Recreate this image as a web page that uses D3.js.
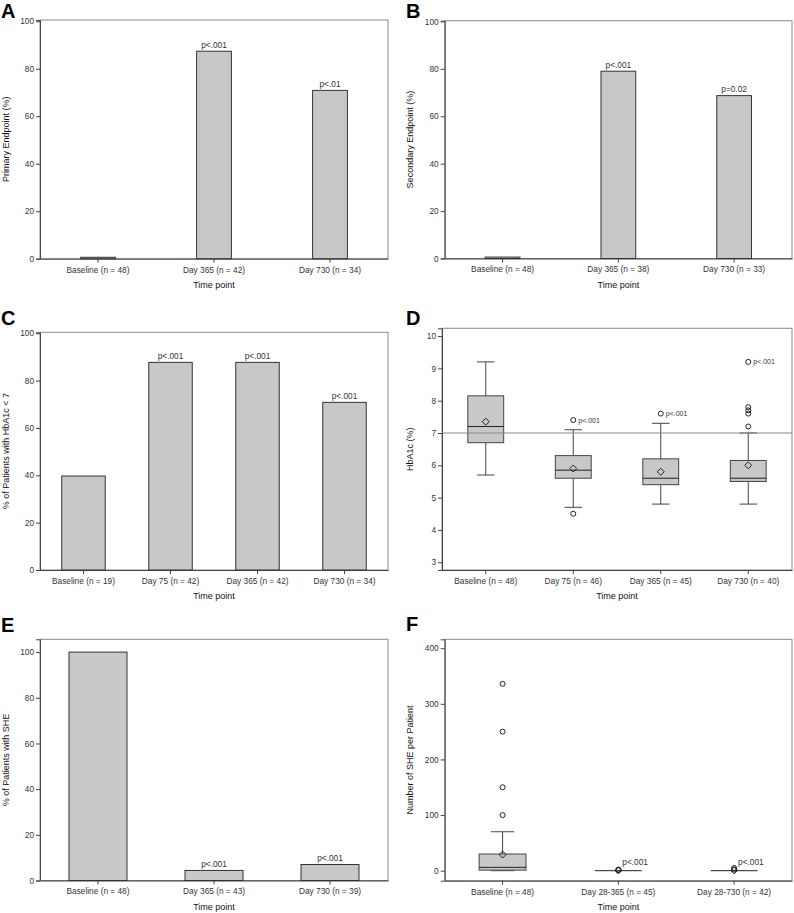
<!DOCTYPE html>
<html><head><meta charset="utf-8">
<script src="https://cdn.jsdelivr.net/npm/d3@7"></script>
<style>html,body{margin:0;padding:0;background:#fff}svg{display:block;font-family:"Liberation Sans",Arial,sans-serif}</style>
</head><body>
<svg id="c" width="794" height="913"></svg>
<script>
// ---------- DATA ----------
const catsA = ["Baseline (n = 48)", "Day 365 (n = 42)", "Day 730 (n = 34)"];
const valsA = [0.6, 87.4, 70.9];
const pA = ["", "p<.001", "p<.01"];

const catsB = ["Baseline (n = 48)", "Day 365 (n = 38)", "Day 730 (n = 33)"];
const valsB = [0.6, 79.0, 68.7];
const pB = ["", "p<.001", "p=0.02"];

const catsC = ["Baseline (n = 19)", "Day 75 (n = 42)", "Day 365 (n = 42)", "Day 730 (n = 34)"];
const valsC = [39.7, 87.7, 87.7, 70.8];
const pC = ["", "p<.001", "p<.001", "p<.001"];

const catsD = ["Baseline (n = 48)", "Day 75 (n = 46)", "Day 365 (n = 45)", "Day 730 (n = 40)"];
const lowD = [5.7, 4.7, 4.8, 4.8];
const q1D = [6.7, 5.6, 5.4, 5.5];
const medD = [7.2, 5.85, 5.6, 5.6];
const q3D = [8.15, 6.3, 6.2, 6.15];
const highD = [9.2, 7.1, 7.3, 7.0];
const meanD = [7.35, 5.9, 5.8, 6.0];
const outD = [[], [7.4, 4.5], [7.6], [9.2, 7.8, 7.7, 7.6, 7.2]];
const pD = ["", "p<.001", "p<.001", "p<.001"];
const pDat = [null, 7.4, 7.6, 9.2];
const refD = 7;

const catsE = ["Baseline (n = 48)", "Day 365 (n = 43)", "Day 730 (n = 39)"];
const valsE = [100, 4.4, 7.0];
const pE = ["", "p<.001", "p<.001"];

const catsF = ["Baseline (n = 48)", "Day 28-365 (n = 45)", "Day 28-730 (n = 42)"];
const lowF = [0, 0, 0];
const q1F = [1, 0, 0];
const medF = [6, 0, 0];
const q3F = [30, 0, 0];
const highF = [70, 0, 0];
const meanF = [29, 0.4, 0.6];
const outF = [[336, 250, 150, 100], [1, 2], [2, 5]];
const pF = ["", "p<.001", "p<.001"];

const ticks100 = [0, 20, 40, 60, 80, 100];
const ticksD = [3, 4, 5, 6, 7, 8, 9, 10];
const ticksF = [0, 100, 200, 300, 400];

// ---------- DRAW ----------
const svg = d3.select("#c");
const TXT = "#333";
const FILL = "#c8c8c8";

function frame(o) {
  const g = svg.append("g");
  const x = d3.scaleBand().domain(o.cats).range([o.left, o.right]).padding(0);
  const y = d3.scaleLinear().domain(o.domain).range([o.bottom, o.top]);
  // frame (top/right lighter)
  g.append("rect").attr("x", o.left).attr("y", o.top).attr("width", o.right - o.left)
    .attr("height", o.bottom - o.top).attr("fill", "none").attr("stroke", "#8a8a8a").attr("stroke-width", 1);
  // y axis
  const ya = g.append("g").attr("transform", `translate(${o.left},0)`)
    .call(d3.axisLeft(y).tickValues(o.ticks).tickSize(4).tickPadding(2).tickFormat(d3.format("d")));
  ya.select(".domain").attr("stroke", "#444");
  ya.selectAll(".tick line").attr("stroke", "#444");
  ya.selectAll("text").attr("fill", TXT).style("font-size", "8.3px").style("font-family", "Liberation Sans, Arial, sans-serif");
  // x axis
  const xa = g.append("g").attr("transform", `translate(0,${o.bottom})`)
    .call(d3.axisBottom(x).tickSize(4).tickPadding(4).tickSizeOuter(0));
  xa.select(".domain").attr("stroke", "#444");
  xa.selectAll(".tick line").attr("stroke", "#444");
  xa.selectAll("text").attr("fill", TXT).style("font-size", "8.3px").style("font-family", "Liberation Sans, Arial, sans-serif");
  // titles
  g.append("text").attr("x", (o.left + o.right) / 2).attr("y", o.bottom + 29)
    .attr("text-anchor", "middle").attr("fill", "#111").style("font-size", "9px").text("Time point");
  g.append("text").attr("transform", `translate(${o.ytx},${(o.top + o.bottom) / 2}) rotate(-90)`)
    .attr("text-anchor", "middle").attr("fill", "#111").style("font-size", "9px").text(o.ytitle);
  g.append("text").attr("x", o.lx).attr("y", o.ly).attr("fill", "#000")
    .style("font-size", "20px").style("font-weight", "bold").style("font-family", "Liberation Sans, Arial, sans-serif").text(o.letter);
  return { g, x, y };
}

function bars(o, vals, ps, frac) {
  const { g, x, y } = frame(o);
  const bw = x.bandwidth() * frac;
  g.selectAll("rect.bar").data(vals).join("rect").attr("class", "bar")
    .attr("x", (d, i) => x(o.cats[i]) + (x.bandwidth() - bw) / 2)
    .attr("y", d => y(d)).attr("width", bw).attr("height", d => y(0) - y(d))
    .attr("fill", FILL).attr("stroke", "#333").attr("stroke-width", 1);
  g.selectAll("text.p").data(ps).join("text").attr("class", "p")
    .attr("x", (d, i) => x(o.cats[i]) + x.bandwidth() / 2)
    .attr("y", (d, i) => y(vals[i]) - 3.5)
    .attr("text-anchor", "middle").attr("fill", TXT).style("font-size", "8.3px").text(d => d);
}

function boxes(o, low, q1, med, q3, high, mean, outs, frac, capFrac) {
  const { g, x, y } = frame(o);
  const bw = x.bandwidth() * frac, cw = x.bandwidth() * capFrac;
  o.cats.forEach((c, i) => {
    const cx = x(c) + x.bandwidth() / 2;
    const st = "#444";
    if (high[i] > q3[i]) {
      g.append("line").attr("x1", cx).attr("x2", cx).attr("y1", y(q3[i])).attr("y2", y(high[i])).attr("stroke", st);
      g.append("line").attr("x1", cx - cw / 2).attr("x2", cx + cw / 2).attr("y1", y(high[i])).attr("y2", y(high[i])).attr("stroke", st);
    }
    if (low[i] < q1[i]) {
      g.append("line").attr("x1", cx).attr("x2", cx).attr("y1", y(q1[i])).attr("y2", y(low[i])).attr("stroke", st);
      g.append("line").attr("x1", cx - cw / 2).attr("x2", cx + cw / 2).attr("y1", y(low[i])).attr("y2", y(low[i])).attr("stroke", st);
    }
    g.append("rect").attr("x", cx - bw / 2).attr("y", y(q3[i])).attr("width", bw)
      .attr("height", Math.max(0, y(q1[i]) - y(q3[i]))).attr("fill", FILL).attr("stroke", st);
    g.append("line").attr("x1", cx - bw / 2).attr("x2", cx + bw / 2).attr("y1", y(med[i])).attr("y2", y(med[i])).attr("stroke", "#222");
    const my = y(mean[i]), r = 3.5;
    g.append("path").attr("d", `M${cx},${my - r}L${cx + r},${my}L${cx},${my + r}L${cx - r},${my}Z`)
      .attr("fill", "none").attr("stroke", "#222").attr("stroke-width", 1);
    outs[i].forEach(v => {
      g.append("circle").attr("cx", cx).attr("cy", y(v)).attr("r", 2.5).attr("fill", "none").attr("stroke", "#222");
    });
  });
  return { g, x, y };
}

// A
bars({ cats: catsA, left: 40, right: 388, top: 20, bottom: 258.7, domain: [0, 100.55], ticks: ticks100,
  ytitle: "Primary Endpoint (%)", ytx: 9, letter: "A", lx: 1, ly: 18.3 }, valsA, pA, 0.3);
// B
bars({ cats: catsB, left: 444.7, right: 792, top: 20.7, bottom: 258.5, domain: [0, 100.3], ticks: ticks100,
  ytitle: "Secondary Endpoint (%)", ytx: 413, letter: "B", lx: 406, ly: 18.3 }, valsB, pB, 0.3);
// C
bars({ cats: catsC, left: 40, right: 388, top: 332.3, bottom: 570, domain: [0, 100.4], ticks: ticks100,
  ytitle: "% of Patients with HbA1c < 7", ytx: 9, letter: "C", lx: 1, ly: 325 }, valsC, pC, 0.5);
// E
bars({ cats: catsE, left: 40, right: 388, top: 639.3, bottom: 880.5, domain: [0, 105.6], ticks: ticks100,
  ytitle: "% of Patients with SHE", ytx: 9, letter: "E", lx: 1, ly: 631.7 }, valsE, pE, 0.5);

// D
(function () {
  const o = { cats: catsD, left: 442, right: 792, top: 328.3, bottom: 570, domain: [2.76, 10.24], ticks: ticksD,
    ytitle: "HbA1c (%)", ytx: 413, letter: "D", lx: 406, ly: 325 };
  const { g, x, y } = boxes(o, lowD, q1D, medD, q3D, highD, meanD, outD, 0.41, 0.2);
  g.append("line").attr("x1", o.left).attr("x2", o.right).attr("y1", y(refD)).attr("y2", y(refD))
    .attr("stroke", "#888").attr("stroke-width", 1);
  pD.forEach((p, i) => {
    if (!p) return;
    const cx = x(catsD[i]) + x.bandwidth() / 2;
    g.append("text").attr("x", cx + 5).attr("y", y(pDat[i])).attr("dy", "0.35em")
      .attr("fill", TXT).style("font-size", "7px").text(p);
  });
})();

// F
(function () {
  const o = { cats: catsF, left: 444.7, right: 792, top: 639.3, bottom: 880.7, domain: [-18, 416], ticks: ticksF,
    ytitle: "Number of SHE per Patient", ytx: 413, letter: "F", lx: 406, ly: 630.7 };
  const { g, x, y } = boxes(o, lowF, q1F, medF, q3F, highF, meanF, outF, 0.405, 0.2);
  pF.forEach((p, i) => {
    if (!p) return;
    const cx = x(catsF[i]) + x.bandwidth() / 2;
    g.append("text").attr("x", cx + 4).attr("y", y(0) - 5.5)
      .attr("fill", TXT).style("font-size", "8.3px").text(p);
  });
})();
</script>
</body></html>
